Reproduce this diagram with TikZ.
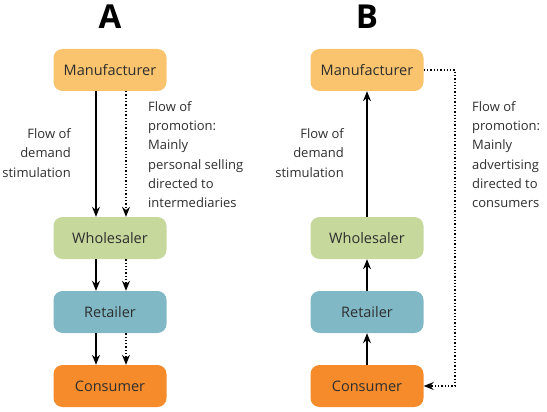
\documentclass[tikz,border=0pt]{standalone}
\usepackage{fontspec}
\setmainfont{Open Sans}
\usepackage{xcolor}
\usepackage{tikz}
\usetikzlibrary{arrows.meta}

\definecolor{manucol}{HTML}{FAC46E}
\definecolor{wholecol}{HTML}{C6D89C}
\definecolor{retailcol}{HTML}{80B9C5}
\definecolor{conscol}{HTML}{F58B2B}
\definecolor{textcol}{HTML}{2E2E2E}

\tikzset{
  box/.style={rectangle, rounded corners=9pt, minimum width=113pt, minimum height=42pt,
    inner sep=0pt, text=textcol, font=\fontsize{14.5}{17}\selectfont},
  title/.style={font=\fontsize{33}{36}\selectfont\bfseries, text=black},
  note/.style={text=textcol, font=\fontsize{13}{19.2}\selectfont, inner sep=0pt},
  demand/.style={line width=1.3pt, -{Stealth[length=10pt,width=8pt]}},
  promo/.style={line width=1.3pt, dotted, -{Stealth[length=10pt,width=8pt]}},
}

\begin{document}
\begin{tikzpicture}[x=1pt, y=-1pt]
            \useasboundingbox (0, 0) rectangle (547, 412);
            % A
            \node (tA) at (110, 17) [title] {A};
            \node (mA) at (110, 70) [box, fill = manucol] {Manufacturer};
            \node (wA) at (110, 238) [box, fill = wholecol] {Wholesaler};
            \node (rA) at (110, 312) [box, fill = retailcol] {Retailer};
            \node (cA) at (110, 386) [box, fill = conscol] {Consumer};
            \node (dA) at (71, 153) [note, anchor = east, align = right] {Flow of\\demand\\stimulation};
            \node (pA) at (148, 154.5) [note, anchor = west, align = left] {Flow of\\promotion:\\Mainly\\personal selling\\directed to\\intermediaries};
            \draw [demand] ([xshift=-14pt]mA.south) -- ([xshift=-14pt]wA.north);
            \draw [promo] ([xshift=16pt]mA.south) -- ([xshift=16pt]wA.north);
            \draw [demand] ([xshift=-14pt]wA.south) -- ([xshift=-14pt]rA.north);
            \draw [promo] ([xshift=16pt]wA.south) -- ([xshift=16pt]rA.north);
            \draw [demand] ([xshift=-14pt]rA.south) -- ([xshift=-14pt]cA.north);
            \draw [promo] ([xshift=16pt]rA.south) -- ([xshift=16pt]cA.north);
            % B
            \node (tB) at (367, 17) [title] {B};
            \node (mB) at (367, 70) [box, fill = manucol] {Manufacturer};
            \node (wB) at (367, 238) [box, fill = wholecol] {Wholesaler};
            \node (rB) at (367, 312) [box, fill = retailcol] {Retailer};
            \node (cB) at (367, 386) [box, fill = conscol] {Consumer};
            \node (dB) at (344, 153) [note, anchor = east, align = right] {Flow of\\demand\\stimulation};
            \node (pB) at (472, 154.5) [note, anchor = west, align = left] {Flow of\\promotion:\\Mainly\\advertising\\directed to\\consumers};
            \coordinate (turnB) at (455, 70);
            \draw [demand] (wB) edge (mB);
            \draw [demand] (rB) edge (wB);
            \draw [demand] (cB) edge (rB);
            \draw [promo] (mB) -- (turnB) |- (cB);
        \end{tikzpicture}
\end{document}
